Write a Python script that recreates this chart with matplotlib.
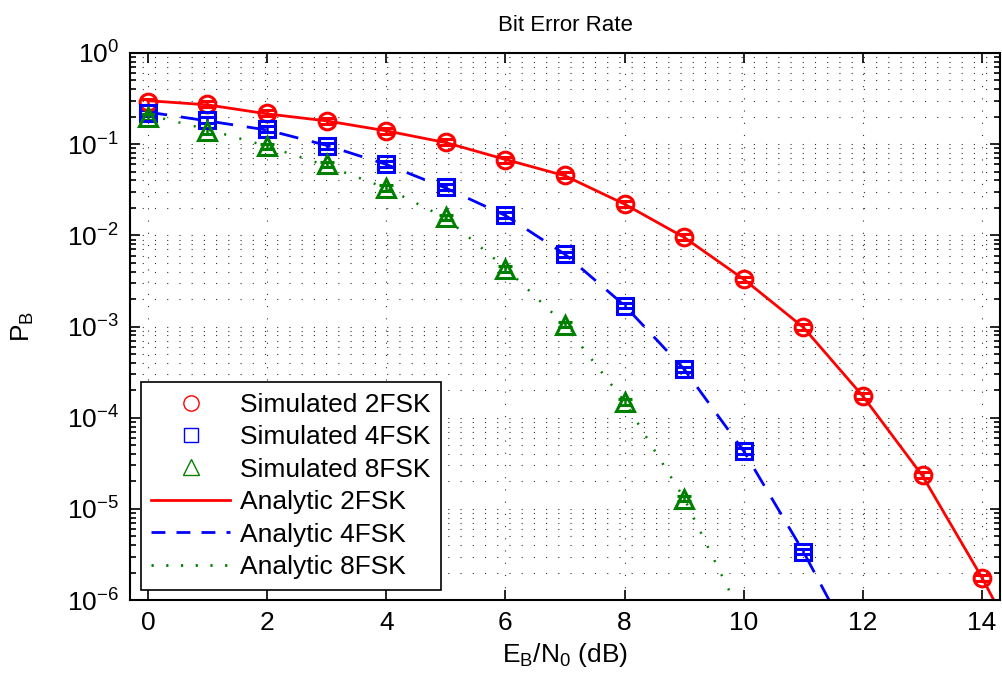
"""Bit error rate of noncoherent 2/4/8-FSK, simulated vs analytic (MATLAB-like look)."""

import matplotlib
matplotlib.use("Agg")
import matplotlib.pyplot as plt
from matplotlib.lines import Line2D
from matplotlib.ticker import FixedLocator, LogFormatterSciNotation, NullFormatter

plt.rcParams['font.family'] = ['Liberation Sans', 'DejaVu Sans']
plt.rcParams['mathtext.fontset'] = 'custom'
plt.rcParams['mathtext.rm'] = 'Liberation Sans'
plt.rcParams['mathtext.it'] = 'Liberation Sans'

# simulated points (Eb/N0 in dB)
ebn0_sim = [0, 1, 2, 3, 4, 5, 6, 7, 8, 9, 10, 11, 12, 13, 14]
sim_2fsk = [0.29, 0.275, 0.22, 0.18, 0.14, 0.106, 0.067, 0.046, 0.022, 0.0096,
            0.0033, 0.00099, 0.000173, 2.35e-5, 1.75e-6]
ebn0_sim4 = [0, 1, 2, 3, 4, 5, 6, 7, 8, 9, 10, 11]
sim_4fsk = [0.22, 0.185, 0.147, 0.096, 0.061, 0.034, 0.0168, 0.0062, 0.0017,
            0.00034, 4.3e-5, 3.4e-6]
ebn0_sim8 = [0, 1, 2, 3, 4, 5, 6, 7, 8, 9]
sim_8fsk = [0.2, 0.14, 0.095, 0.06, 0.033, 0.0157, 0.0043, 0.00105, 0.00015, 1.3e-5]

# analytic curves
ebn0_ana2 = [0, 1, 2, 3, 4, 5, 6, 7, 8, 9, 10, 11, 12, 13, 14, 15]
ana_2fsk = [0.30, 0.27, 0.215, 0.18, 0.14, 0.104, 0.068, 0.045, 0.022, 0.0095,
            0.0033, 0.00098, 0.000172, 2.3e-5, 1.75e-6, 1.0e-7]
ebn0_ana4 = [0, 1, 2, 3, 4, 5, 6, 7, 8, 9, 10, 11, 12]
ana_4fsk = [0.225, 0.18, 0.143, 0.097, 0.06, 0.033, 0.0165, 0.0062, 0.0017,
            0.00034, 4.3e-5, 3.4e-6, 2.0e-7]
ebn0_ana8 = [0, 1, 2, 3, 4, 5, 6, 7, 8, 9, 10]
ana_8fsk = [0.21, 0.145, 0.095, 0.058, 0.033, 0.0155, 0.0044, 0.00104, 0.00015,
            1.3e-5, 6.0e-7]

xticks = [0, 2, 4, 6, 8, 10, 12, 14]
yticks = [1e-6, 1e-5, 1e-4, 1e-3, 1e-2, 1e-1, 1]
err_frac = 0.07  # half-height of the small error bars, relative to value

RED = '#ff0000'
BLUE = '#0000ff'
GREEN = '#008000'

fig = plt.figure(figsize=(10.03, 6.75), dpi=100)
ax = fig.add_axes([0.1296, 0.111, 0.8674, 0.8105])

ax.plot(ebn0_ana2, ana_2fsk, '-', color=RED, lw=2.0)
ax.plot(ebn0_ana4, ana_4fsk, color=BLUE, lw=2.0, dashes=(7, 5))
ax.plot(ebn0_ana8, ana_8fsk, color=GREEN, lw=1.8, dashes=(0.8, 5.5))

for xs, ys, m, c, ms in [(ebn0_sim, sim_2fsk, 'o', RED, 12),
                         (ebn0_sim4, sim_4fsk, 's', BLUE, 11),
                         (ebn0_sim8, sim_8fsk, '^', GREEN, 13)]:
    yerr = [v * err_frac for v in ys]
    ax.errorbar(xs, ys, yerr=yerr, fmt=m, ms=ms, mfc='none', mec=c, mew=2.2,
                ecolor=c, elinewidth=1.8, capsize=5, capthick=1.8)

ax.set_yscale('log')
ax.set_xlim(-0.3, 14.3)
ax.set_ylim(1e-6, 1)
ax.set_xticks(xticks)
ax.yaxis.set_major_locator(FixedLocator(yticks))
ax.yaxis.set_major_formatter(LogFormatterSciNotation())
minor = [m * t for t in yticks[:-1] for m in range(2, 10)]
ax.yaxis.set_minor_locator(FixedLocator(minor))
ax.yaxis.set_minor_formatter(NullFormatter())

ax.grid(True, which='major', axis='x', color='#333333', lw=0.8, linestyle=(0, (1, 10)))
ax.grid(True, which='both', axis='y', color='#333333', lw=0.8, linestyle=(0, (1, 10)))

ax.tick_params(which='both', direction='in', top=True, right=True, labelsize=19,
               width=1.2)
ax.tick_params(which='major', length=7, pad=8)
ax.tick_params(which='minor', length=4)
for s in ax.spines.values():
    s.set_linewidth(1.5)

ax.set_title('Bit Error Rate', fontsize=16, pad=16)
ax.set_xlabel('$\\mathregular{E_B/N_0}$ (dB)', fontsize=19, labelpad=4)
ax.set_ylabel('$\\mathregular{P_B}$', fontsize=19, labelpad=22)

handles = [
    Line2D([], [], ls='none', marker='o', ms=11, mfc='none', mec=RED, mew=1),
    Line2D([], [], ls='none', marker='s', ms=10, mfc='none', mec=BLUE, mew=1),
    Line2D([], [], ls='none', marker='^', ms=12, mfc='none', mec=GREEN, mew=1),
    Line2D([], [], color=RED, lw=2),
    Line2D([], [], color=BLUE, lw=2, dashes=(5, 4)),
    Line2D([], [], color=GREEN, lw=2, dashes=(0.8, 4.5)),
]
labels = ['Simulated 2FSK', 'Simulated 4FSK', 'Simulated 8FSK',
          'Analytic 2FSK', 'Analytic 4FSK', 'Analytic 8FSK']
leg = ax.legend(handles, labels, loc='lower left', fontsize=19, handlelength=3.0,
                labelspacing=0.32, borderpad=0.4, handletextpad=0.35,
                borderaxespad=0.4, fancybox=False, framealpha=1, edgecolor='black')
leg.get_frame().set_linewidth(1.2)

fig.savefig('out.png', dpi=100)
